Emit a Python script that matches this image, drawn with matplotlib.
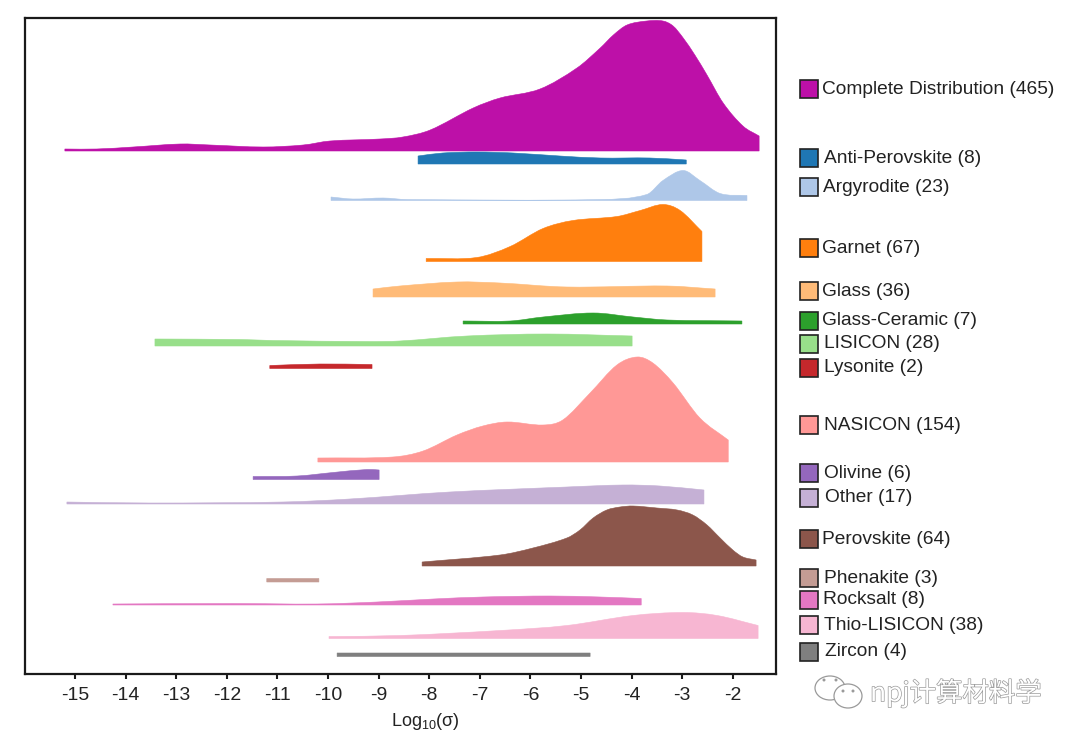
import matplotlib
matplotlib.use("Agg")
import matplotlib.pyplot as plt
import matplotlib.patheffects as pe
from matplotlib.path import Path
from matplotlib.patches import PathPatch, Rectangle, Ellipse, Circle
from matplotlib.transforms import Affine2D
import numpy as np

plt.rcParams['font.family'] = ['Liberation Sans', 'DejaVu Sans']
plt.rcParams['mathtext.fontset'] = 'custom'
plt.rcParams['mathtext.rm'] = 'Liberation Sans'
plt.rcParams['mathtext.default'] = 'regular'

# ---- data: log10(conductivity) positions and ridge heights ----
labels = ["Complete Distribution (465)", "Anti-Perovskite (8)", "Argyrodite (23)", "Garnet (67)",
          "Glass (36)", "Glass-Ceramic (7)", "LISICON (28)", "Lysonite (2)", "NASICON (154)",
          "Olivine (6)", "Other (17)", "Perovskite (64)", "Phenakite (3)", "Rocksalt (8)",
          "Thio-LISICON (38)", "Zircon (4)"]
colors = ["#bd10a8", "#1f77b4", "#aec7e8", "#ff7f0e", "#ffbb78", "#2ca02c", "#98df8a", "#c5282c",
          "#ff9896", "#9467bd", "#c5b0d5", "#8c564b", "#c49c94", "#e377c2", "#f7b6d2", "#7f7f7f"]

complete_x = [-15.20, -14.57, -13.85, -12.92, -12.33, -11.28, -10.49, -9.96, -8.97, -8.52, -7.98, -7.13,
              -6.60, -5.81, -5.08, -4.62, -4.36, -4.09, -3.70, -3.38, -3.18, -2.98, -2.75, -2.51, -2.19, -1.80, -1.48]
complete_h = [2, 2, 4, 7, 6, 4, 6, 10, 12, 14, 21, 43, 53, 62, 83, 103, 116, 126, 130, 130, 125, 113, 96, 76, 48, 25, 15]
anti_x = [-8.22, -7.73, -7.06, -6.34, -5.42, -4.62, -3.64, -2.92]
anti_h = [8, 11, 12, 11, 8, 6, 6, 4]
argy_x = [-9.94, -9.51, -8.91, -8.44, -4.62, -3.70, -3.38, -2.98, -2.65, -2.25, -1.72]
argy_h = [3.5, 1.5, 2.5, 1, 1, 6, 20, 30, 20, 7, 5]
garnet_x = [-8.06, -7.06, -6.40, -5.75, -5.16, -4.29, -3.83, -3.38, -3.04, -2.61]
garnet_h = [3, 4, 15, 33, 41, 45, 51, 57, 51, 30]
glass_x = [-9.11, -8.58, -7.45, -6.60, -5.28, -3.30, -2.35]
glass_h = [8, 11, 15, 14, 10, 11, 8]
gc_x = [-7.33, -6.40, -5.75, -4.76, -3.97, -3.30, -1.82]
gc_h = [3, 3, 7, 11, 7, 4, 3]
lisicon_x = [-13.42, -11.74, -11.09, -9.23, -8.58, -7.25, -5.67, -3.99]
lisicon_h = [7, 6.5, 5.5, 4.5, 5, 10, 12, 10]
lysonite_x = [-11.15, -10.16, -9.13]
lysonite_h = [3, 4.5, 4]
nasicon_x = [-10.20, -8.72, -8.12, -7.45, -6.94, -6.46, -5.75, -5.36, -4.82, -4.29, -3.89, -3.58, -3.18, -2.65, -2.09]
nasicon_h = [4, 5, 11, 27, 36, 40, 37, 42, 69, 97, 105, 99, 79, 44, 22]
olivine_x = [-11.48, -10.61, -9.90, -9.23, -8.99]
olivine_h = [3, 3.5, 7, 10, 9.5]
other_x = [-15.16, -13.52, -10.89, -9.57, -7.59, -5.28, -4.17, -3.44, -2.57]
other_h = [2, 1, 2, 5, 12, 17, 19, 18, 14]
perov_x = [-8.14, -6.60, -5.95, -5.28, -5.02, -4.76, -4.49, -4.23, -3.97, -3.50, -3.10, -2.79, -2.51, -2.25, -2.00, -1.80, -1.54]
perov_h = [4, 11, 18, 28, 36, 48, 56, 59, 60, 58, 56, 51, 41, 28, 16, 9, 6]
phenakite_x = [-11.21, -10.18]
phenakite_h = [3.5, 3.5]
rocksalt_x = [-14.25, -11.88, -10.22, -9.03, -7.92, -6.94, -5.61, -4.62, -3.81]
rocksalt_h = [1, 1.5, 1, 3, 6, 8, 9, 8, 6.5]
thio_x = [-9.98, -8.58, -6.60, -5.28, -3.97, -2.98, -2.31, -1.50]
thio_h = [2, 3, 8, 13, 23, 26, 23, 13]
zircon_x = [-9.82, -7.30, -4.82]
zircon_h = [3.5, 3.5, 3.5]

xs = [complete_x, anti_x, argy_x, garnet_x, glass_x, gc_x, lisicon_x, lysonite_x,
      nasicon_x, olivine_x, other_x, perov_x, phenakite_x, rocksalt_x, thio_x, zircon_x]
hs = [complete_h, anti_h, argy_h, garnet_h, glass_h, gc_h, lisicon_h, lysonite_h,
      nasicon_h, olivine_h, other_h, perov_h, phenakite_h, rocksalt_h, thio_h, zircon_h]

xticks = list(range(-15, -1))

# ---- layout (pixels of the 1080x744 canvas) ----
W, H = 1080, 744
AX_L, AX_R, AX_T, AX_B = 25, 776, 18, 674
base_px = [151, 164, 200.5, 261.5, 297, 324, 346, 368.5, 462, 479.5, 504, 566, 582, 605, 638.5, 656.5]
legend_px = [89, 158, 187, 248, 291.5, 320.5, 343.5, 367.5, 424.5, 472.5, 497.5, 538.5, 578, 599.5, 624.5, 651.5]
legend_text_x = [822, 823.5, 823, 822, 822.5, 822.5, 824, 824, 824, 824, 825, 822, 824, 823, 823.5, 825]

fig = plt.figure(figsize=(W / 100, H / 100), dpi=100, facecolor='white')
ax = fig.add_axes([AX_L / W, 1 - AX_B / H, (AX_R - AX_L) / W, (AX_B - AX_T) / H])
ax.set_xlim(-15 - (75 - AX_L) / 50.6, -15 + (AX_R - 75) / 50.6)
ax.set_ylim(0, AX_B - AX_T)


def ridge(x, h, y0, color):
    x = np.asarray(x, float)
    h = np.asarray(h, float)
    m = np.gradient(h, x)
    if len(x) > 2:
        m[1:-1] = (h[2:] - h[:-2]) / (x[2:] - x[:-2])
    verts = [(x[0], y0), (x[0], y0 + h[0])]
    codes = [Path.MOVETO, Path.LINETO]
    for i in range(len(x) - 1):
        d = (x[i + 1] - x[i]) / 3
        verts += [(x[i] + d, y0 + h[i] + m[i] * d),
                  (x[i + 1] - d, y0 + h[i + 1] - m[i + 1] * d),
                  (x[i + 1], y0 + h[i + 1])]
        codes += [Path.CURVE4] * 3
    verts += [(x[-1], y0), (x[0], y0)]
    codes += [Path.LINETO, Path.CLOSEPOLY]
    ax.add_patch(PathPatch(Path(verts, codes), facecolor=color, edgecolor=color, lw=0.4))


for x, h, b, c in zip(xs, hs, base_px, colors):
    ridge(x, h, AX_B - b, c)

for s in ax.spines.values():
    s.set_linewidth(1.6)
    s.set_color('#1a1a1a')
ax.set_yticks([])
ax.set_xticks(xticks)
ax.set_xticklabels([str(t) for t in xticks], fontsize=14, color='#222222')
ax.tick_params(axis='x', length=3.8, width=1.5, pad=5.5, color='#1a1a1a')
fig.text(425 / W, 1 - 722 / H, 'Log$_{10}$(σ)', fontsize=13, color='#222222', ha='center', va='center')

# ---- legend ----
for lab, c, yc, tx in zip(labels, colors, legend_px, legend_text_x):
    fig.add_artist(Rectangle((800 / W, 1 - (yc + 9) / H), 18 / W, 18 / H, transform=fig.transFigure,
                             facecolor=c, edgecolor='#222222', lw=1.2))
    fig.text(tx / W, 1 - (yc + 0.5) / H, lab, fontsize=13.8, color='#222222', ha='left', va='center')

# ---- watermark ----
halo = [pe.withStroke(linewidth=1.0, foreground='#9a9a9a')]
fig.text(870 / W, 1 - 693 / H, 'npj计算材料学', fontsize=19, color='white', ha='left', va='center',
         family=['Noto Sans CJK SC', 'DejaVu Sans'], path_effects=halo)
tr = Affine2D().scale(1, -1).translate(0, H)
for (cx, cy, w, h) in [(830, 688, 30, 24), (848, 696, 28, 24)]:
    fig.add_artist(Ellipse((cx, cy), w, h, transform=tr, facecolor='white', edgecolor='#9a9a9a', lw=0.9))
for (cx, cy) in [(824, 680), (836, 680), (843, 691), (853, 691)]:
    fig.add_artist(Circle((cx, cy), 1.5, transform=tr, facecolor='#9a9a9a', edgecolor='none'))

fig.savefig('out.png', dpi=100)
